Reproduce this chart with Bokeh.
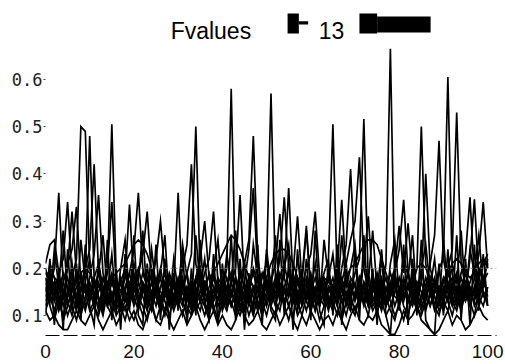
from bokeh.plotting import figure
from bokeh.models import Range1d, FixedTicker, Label, BoxAnnotation, Span
from bokeh.embed import file_html
from bokeh.resources import INLINE

# ---------------- data ----------------
x = list(range(0, 101))

s1 = [0.19, 0.17, 0.14, 0.16, 0.12, 0.15, 0.18, 0.22, 0.50, 0.49,
      0.20, 0.15, 0.11, 0.14, 0.17, 0.13, 0.10, 0.12, 0.16, 0.19,
      0.14, 0.11, 0.15, 0.18, 0.13, 0.09, 0.12, 0.17, 0.14, 0.16,
      0.36, 0.15, 0.12, 0.10, 0.14, 0.18, 0.16, 0.11, 0.13, 0.17,
      0.15, 0.20, 0.58, 0.17, 0.12, 0.14, 0.10, 0.13, 0.16, 0.12,
      0.15, 0.18, 0.13, 0.11, 0.16, 0.19, 0.14, 0.10, 0.12, 0.15,
      0.17, 0.13, 0.09, 0.12, 0.16, 0.14, 0.18, 0.13, 0.10, 0.14,
      0.17, 0.12, 0.15, 0.19, 0.14, 0.11, 0.13, 0.21, 0.665, 0.16,
      0.12, 0.09, 0.13, 0.17, 0.14, 0.11, 0.15, 0.18, 0.12, 0.10,
      0.14, 0.17, 0.13, 0.11, 0.15, 0.19, 0.16, 0.12, 0.14, 0.17,
      0.15]
s2 = [0.15, 0.21, 0.18, 0.13, 0.10, 0.14, 0.17, 0.12, 0.15, 0.19,
      0.48, 0.18, 0.14, 0.11, 0.16, 0.19, 0.15, 0.12, 0.09, 0.13,
      0.17, 0.20, 0.16, 0.12, 0.15, 0.18, 0.13, 0.10, 0.14, 0.17,
      0.12, 0.16, 0.19, 0.14, 0.11, 0.13, 0.17, 0.15, 0.12, 0.09,
      0.13, 0.16, 0.12, 0.15, 0.19, 0.16, 0.13, 0.10, 0.14, 0.18,
      0.21, 0.57, 0.18, 0.13, 0.16, 0.12, 0.10, 0.14, 0.18, 0.29,
      0.15, 0.11, 0.14, 0.17, 0.13, 0.16, 0.12, 0.09, 0.13, 0.16,
      0.14, 0.18, 0.13, 0.10, 0.15, 0.17, 0.14, 0.12, 0.16, 0.19,
      0.15, 0.13, 0.17, 0.14, 0.11, 0.13, 0.16, 0.12, 0.15, 0.20,
      0.22, 0.605, 0.19, 0.14, 0.12, 0.16, 0.13, 0.10, 0.15, 0.18,
      0.14]
s3 = [0.12, 0.16, 0.20, 0.36, 0.17, 0.13, 0.10, 0.14, 0.18, 0.15,
      0.11, 0.13, 0.17, 0.14, 0.19, 0.505, 0.18, 0.13, 0.11, 0.15,
      0.19, 0.14, 0.12, 0.09, 0.13, 0.16, 0.20, 0.15, 0.12, 0.14,
      0.17, 0.13, 0.10, 0.15, 0.18, 0.14, 0.12, 0.16, 0.19, 0.15,
      0.11, 0.14, 0.17, 0.20, 0.355, 0.16, 0.12, 0.15, 0.18, 0.13,
      0.10, 0.14, 0.17, 0.15, 0.12, 0.09, 0.13, 0.17, 0.14, 0.11,
      0.15, 0.18, 0.14, 0.12, 0.16, 0.13, 0.10, 0.14, 0.17, 0.15,
      0.19, 0.22, 0.516, 0.17, 0.13, 0.15, 0.18, 0.14, 0.11, 0.09,
      0.13, 0.16, 0.19, 0.15, 0.12, 0.14, 0.18, 0.15, 0.11, 0.13,
      0.16, 0.13, 0.10, 0.14, 0.18, 0.15, 0.12, 0.16, 0.20, 0.17,
      0.19]
s4 = [0.18, 0.14, 0.11, 0.15, 0.19, 0.16, 0.12, 0.09, 0.13, 0.17,
      0.14, 0.18, 0.21, 0.16, 0.12, 0.15, 0.11, 0.14, 0.18, 0.335,
      0.16, 0.13, 0.17, 0.14, 0.11, 0.15, 0.18, 0.13, 0.10, 0.14,
      0.18, 0.15, 0.19, 0.23, 0.50, 0.18, 0.13, 0.10, 0.14, 0.17,
      0.13, 0.11, 0.15, 0.18, 0.14, 0.12, 0.16, 0.19, 0.15, 0.11,
      0.13, 0.16, 0.14, 0.18, 0.21, 0.16, 0.13, 0.11, 0.15, 0.18,
      0.14, 0.11, 0.16, 0.19, 0.22, 0.505, 0.17, 0.13, 0.15, 0.12,
      0.10, 0.14, 0.17, 0.13, 0.16, 0.19, 0.15, 0.12, 0.14, 0.18,
      0.16, 0.12, 0.10, 0.14, 0.17, 0.13, 0.11, 0.15, 0.18, 0.14,
      0.17, 0.20, 0.24, 0.53, 0.21, 0.16, 0.13, 0.15, 0.19, 0.22,
      0.20]
s5 = [0.14, 0.19, 0.16, 0.12, 0.15, 0.18, 0.14, 0.11, 0.16, 0.20,
      0.24, 0.42, 0.19, 0.15, 0.12, 0.10, 0.14, 0.17, 0.13, 0.16,
      0.12, 0.15, 0.19, 0.16, 0.13, 0.17, 0.14, 0.11, 0.15, 0.18,
      0.14, 0.12, 0.16, 0.13, 0.17, 0.20, 0.15, 0.12, 0.16, 0.13,
      0.17, 0.14, 0.12, 0.15, 0.18, 0.21, 0.26, 0.48, 0.22, 0.16,
      0.12, 0.15, 0.18, 0.14, 0.19, 0.37, 0.17, 0.13, 0.10, 0.14,
      0.18, 0.15, 0.12, 0.16, 0.13, 0.11, 0.15, 0.18, 0.14, 0.17,
      0.13, 0.16, 0.12, 0.15, 0.18, 0.14, 0.11, 0.15, 0.19, 0.16,
      0.14, 0.17, 0.13, 0.16, 0.20, 0.50, 0.21, 0.15, 0.12, 0.16,
      0.13, 0.11, 0.15, 0.18, 0.14, 0.17, 0.13, 0.16, 0.12, 0.15,
      0.13]
s6 = [0.17, 0.13, 0.15, 0.19, 0.22, 0.34, 0.18, 0.14, 0.11, 0.13,
      0.16, 0.12, 0.15, 0.18, 0.14, 0.11, 0.13, 0.17, 0.20, 0.16,
      0.13, 0.17, 0.14, 0.11, 0.15, 0.12, 0.16, 0.19, 0.15, 0.13,
      0.16, 0.20, 0.25, 0.42, 0.21, 0.16, 0.13, 0.15, 0.11, 0.14,
      0.18, 0.15, 0.13, 0.10, 0.14, 0.17, 0.13, 0.16, 0.12, 0.15,
      0.17, 0.13, 0.16, 0.19, 0.15, 0.12, 0.15, 0.18, 0.14, 0.17,
      0.13, 0.16, 0.12, 0.15, 0.19, 0.16, 0.14, 0.17, 0.21, 0.26,
      0.30, 0.435, 0.20, 0.15, 0.12, 0.14, 0.17, 0.13, 0.16, 0.12,
      0.15, 0.18, 0.14, 0.12, 0.15, 0.19, 0.16, 0.21, 0.27, 0.47,
      0.22, 0.17, 0.14, 0.12, 0.16, 0.19, 0.15, 0.13, 0.17, 0.14,
      0.16]
s7 = [0.20, 0.16, 0.13, 0.17, 0.14, 0.10, 0.13, 0.16, 0.19, 0.15,
      0.18, 0.23, 0.355, 0.19, 0.15, 0.13, 0.16, 0.12, 0.15, 0.19,
      0.24, 0.36, 0.20, 0.16, 0.13, 0.15, 0.12, 0.14, 0.17, 0.13,
      0.15, 0.18, 0.14, 0.11, 0.15, 0.13, 0.17, 0.14, 0.18, 0.15,
      0.12, 0.16, 0.19, 0.15, 0.13, 0.17, 0.24, 0.37, 0.19, 0.14,
      0.16, 0.12, 0.15, 0.17, 0.13, 0.16, 0.19, 0.15, 0.12, 0.16,
      0.19, 0.14, 0.17, 0.13, 0.15, 0.18, 0.14, 0.20, 0.25, 0.41,
      0.21, 0.16, 0.13, 0.17, 0.14, 0.12, 0.15, 0.18, 0.14, 0.17,
      0.13, 0.15, 0.19, 0.16, 0.13, 0.17, 0.40, 0.20, 0.16, 0.13,
      0.15, 0.19, 0.16, 0.13, 0.16, 0.14, 0.17, 0.20, 0.15, 0.18,
      0.21]
s8 = [0.16, 0.12, 0.09, 0.13, 0.17, 0.21, 0.24, 0.33, 0.17, 0.12,
      0.14, 0.17, 0.13, 0.10, 0.15, 0.18, 0.14, 0.11, 0.13, 0.17,
      0.15, 0.19, 0.23, 0.32, 0.18, 0.14, 0.11, 0.15, 0.19, 0.16,
      0.13, 0.10, 0.14, 0.17, 0.13, 0.11, 0.15, 0.19, 0.16, 0.12,
      0.14, 0.18, 0.15, 0.12, 0.10, 0.13, 0.17, 0.14, 0.11, 0.15,
      0.18, 0.14, 0.17, 0.22, 0.35, 0.20, 0.15, 0.12, 0.16, 0.13,
      0.11, 0.14, 0.18, 0.15, 0.12, 0.16, 0.19, 0.15, 0.13, 0.11,
      0.15, 0.13, 0.17, 0.14, 0.11, 0.13, 0.16, 0.12, 0.15, 0.19,
      0.24, 0.345, 0.19, 0.15, 0.12, 0.10, 0.13, 0.17, 0.14, 0.11,
      0.13, 0.16, 0.18, 0.15, 0.19, 0.23, 0.35, 0.18, 0.14, 0.12,
      0.16]
s9 = [0.13, 0.18, 0.15, 0.11, 0.14, 0.20, 0.32, 0.19, 0.14, 0.11,
      0.15, 0.12, 0.10, 0.14, 0.20, 0.34, 0.16, 0.12, 0.14, 0.11,
      0.09, 0.12, 0.16, 0.13, 0.17, 0.14, 0.11, 0.15, 0.18, 0.14,
      0.12, 0.15, 0.13, 0.16, 0.12, 0.15, 0.19, 0.22, 0.32, 0.17,
      0.13, 0.16, 0.14, 0.18, 0.15, 0.11, 0.14, 0.12, 0.16, 0.19,
      0.16, 0.12, 0.10, 0.13, 0.16, 0.14, 0.17, 0.13, 0.16, 0.20,
      0.23, 0.32, 0.18, 0.14, 0.11, 0.15, 0.12, 0.16, 0.13, 0.18,
      0.16, 0.13, 0.15, 0.12, 0.17, 0.15, 0.12, 0.16, 0.13, 0.10,
      0.12, 0.15, 0.13, 0.18, 0.15, 0.12, 0.14, 0.17, 0.14, 0.12,
      0.15, 0.13, 0.17, 0.14, 0.11, 0.15, 0.22, 0.346, 0.18, 0.15,
      0.12]
s10 = [0.11, 0.14, 0.17, 0.14, 0.09, 0.12, 0.15, 0.18, 0.13, 0.16,
       0.13, 0.16, 0.19, 0.16, 0.12, 0.14, 0.17, 0.15, 0.19, 0.14,
       0.18, 0.13, 0.10, 0.14, 0.17, 0.22, 0.30, 0.19, 0.14, 0.11,
       0.14, 0.17, 0.15, 0.12, 0.16, 0.13, 0.10, 0.13, 0.15, 0.18,
       0.16, 0.13, 0.17, 0.14, 0.11, 0.15, 0.18, 0.16, 0.13, 0.10,
       0.14, 0.17, 0.21, 0.315, 0.18, 0.14, 0.19, 0.31, 0.17, 0.13,
       0.16, 0.13, 0.15, 0.18, 0.14, 0.12, 0.20, 0.345, 0.18, 0.14,
       0.11, 0.14, 0.16, 0.12, 0.15, 0.18, 0.13, 0.10, 0.12, 0.15,
       0.18, 0.14, 0.16, 0.13, 0.17, 0.15, 0.12, 0.14, 0.17, 0.15,
       0.18, 0.15, 0.12, 0.16, 0.13, 0.17, 0.14, 0.18, 0.23, 0.34,
       0.20]
s11 = [0.21, 0.25, 0.26, 0.19, 0.15, 0.12, 0.16, 0.13, 0.10, 0.14,
       0.17, 0.14, 0.12, 0.16, 0.13, 0.17, 0.14, 0.18, 0.15, 0.12,
       0.16, 0.13, 0.17, 0.15, 0.19, 0.16, 0.13, 0.17, 0.14, 0.12,
       0.15, 0.13, 0.16, 0.14, 0.18, 0.22, 0.30, 0.18, 0.13, 0.16,
       0.14, 0.12, 0.15, 0.13, 0.17, 0.14, 0.16, 0.20, 0.17, 0.13,
       0.17, 0.15, 0.12, 0.16, 0.13, 0.15, 0.18, 0.14, 0.17, 0.15,
       0.12, 0.15, 0.17, 0.14, 0.18, 0.15, 0.13, 0.16, 0.12, 0.15,
       0.14, 0.17, 0.21, 0.31, 0.17, 0.13, 0.16, 0.13, 0.17, 0.20,
       0.29, 0.19, 0.295, 0.18, 0.15, 0.17, 0.14, 0.12, 0.16, 0.13,
       0.11, 0.14, 0.16, 0.19, 0.15, 0.13, 0.16, 0.14, 0.18, 0.21,
       0.23]
s12 = [0.19, 0.19, 0.18, 0.17, 0.15, 0.14, 0.15, 0.17, 0.19, 0.20,
       0.19, 0.17, 0.16, 0.15, 0.16, 0.18, 0.19, 0.20, 0.21, 0.23,
       0.25, 0.26, 0.25, 0.23, 0.20, 0.17, 0.15, 0.14, 0.15, 0.16,
       0.17, 0.16, 0.14, 0.13, 0.14, 0.15, 0.17, 0.18, 0.19, 0.21,
       0.23, 0.25, 0.27, 0.26, 0.24, 0.21, 0.18, 0.16, 0.15, 0.16,
       0.18, 0.21, 0.23, 0.24, 0.24, 0.23, 0.21, 0.18, 0.16, 0.15,
       0.14, 0.15, 0.17, 0.18, 0.17, 0.16, 0.15, 0.16, 0.18, 0.20,
       0.21, 0.23, 0.25, 0.26, 0.26, 0.25, 0.22, 0.19, 0.16, 0.14,
       0.13, 0.14, 0.16, 0.18, 0.20, 0.21, 0.20, 0.18, 0.17, 0.16,
       0.17, 0.19, 0.21, 0.22, 0.21, 0.19, 0.18, 0.19, 0.21, 0.22,
       0.21]
s13 = [0.11, 0.09, 0.10, 0.08, 0.07, 0.07, 0.09, 0.11, 0.09, 0.08,
       0.10, 0.12, 0.09, 0.07, 0.09, 0.11, 0.08, 0.10, 0.12, 0.09,
       0.11, 0.08, 0.07, 0.10, 0.12, 0.09, 0.08, 0.11, 0.09, 0.07,
       0.09, 0.11, 0.08, 0.10, 0.12, 0.09, 0.07, 0.09, 0.11, 0.08,
       0.10, 0.08, 0.07, 0.09, 0.12, 0.10, 0.08, 0.09, 0.11, 0.08,
       0.07, 0.09, 0.11, 0.08, 0.10, 0.12, 0.09, 0.07, 0.10, 0.08,
       0.11, 0.09, 0.07, 0.09, 0.10, 0.08, 0.11, 0.09, 0.07, 0.10,
       0.12, 0.09, 0.08, 0.10, 0.09, 0.11, 0.08, 0.07, 0.06, 0.06,
       0.08, 0.11, 0.09, 0.10, 0.12, 0.09, 0.08, 0.07, 0.06, 0.07,
       0.09, 0.11, 0.08, 0.10, 0.09, 0.07, 0.08, 0.10, 0.12, 0.10,
       0.09]
s14 = [0.10, 0.22, 0.08, 0.19, 0.07, 0.24, 0.11, 0.21, 0.09, 0.25,
       0.12, 0.08, 0.22, 0.10, 0.26, 0.09, 0.20, 0.07, 0.23, 0.11,
       0.27, 0.10, 0.08, 0.21, 0.12, 0.25, 0.09, 0.22, 0.07, 0.19,
       0.11, 0.24, 0.08, 0.20, 0.10, 0.26, 0.12, 0.09, 0.23, 0.08,
       0.21, 0.11, 0.27, 0.09, 0.22, 0.07, 0.19, 0.10, 0.25, 0.08,
       0.23, 0.11, 0.09, 0.26, 0.10, 0.21, 0.07, 0.24, 0.12, 0.22,
       0.09, 0.28, 0.11, 0.08, 0.22, 0.10, 0.25, 0.08, 0.21, 0.11,
       0.24, 0.09, 0.27, 0.12, 0.20, 0.08, 0.23, 0.10, 0.06, 0.19,
       0.11, 0.25, 0.08, 0.22, 0.10, 0.26, 0.09, 0.07, 0.06, 0.21,
       0.10, 0.24, 0.12, 0.27, 0.09, 0.22, 0.08, 0.25, 0.11, 0.23,
       0.12]
s15 = [0.18, 0.13, 0.24, 0.16, 0.28, 0.14, 0.21, 0.12, 0.26, 0.17,
       0.22, 0.13, 0.19, 0.27, 0.15, 0.23, 0.12, 0.20, 0.26, 0.14,
       0.21, 0.17, 0.28, 0.13, 0.24, 0.16, 0.19, 0.27, 0.12, 0.22,
       0.15, 0.25, 0.18, 0.13, 0.27, 0.16, 0.22, 0.12, 0.20, 0.26,
       0.14, 0.23, 0.17, 0.28, 0.15, 0.21, 0.13, 0.25, 0.18, 0.12,
       0.24, 0.16, 0.27, 0.14, 0.20, 0.25, 0.13, 0.22, 0.17, 0.28,
       0.15, 0.21, 0.12, 0.26, 0.18, 0.23, 0.14, 0.27, 0.16, 0.20,
       0.25, 0.13, 0.22, 0.17, 0.28, 0.15, 0.24, 0.12, 0.21, 0.26,
       0.14, 0.23, 0.18, 0.27, 0.13, 0.20, 0.25, 0.16, 0.22, 0.12,
       0.26, 0.15, 0.21, 0.17, 0.28, 0.14, 0.24, 0.19, 0.27, 0.16,
       0.22]

series = [s1, s2, s3, s4, s5, s6, s7, s8, s9, s10, s11, s12, s13, s14, s15]
reference_level = 0.2
y_ticks = [0.1, 0.2, 0.3, 0.4, 0.5, 0.6]
x_ticks = [0, 20, 40, 60, 80, 100]
title_text = "Fvalues"
legend_count = "13"

# ---------------- figure ----------------
p = figure(width=505, height=364, output_backend="svg", toolbar_location=None,
           x_range=Range1d(0, 102), y_range=Range1d(0.0576, 0.767),
           min_border_left=45, min_border_right=9, min_border_top=0,
           min_border_bottom=29)
p.outline_line_color = None
p.background_fill_color = "white"
p.border_fill_color = "white"
p.grid.visible = False

for s in series:
    p.line(x, s, line_color="black", line_width=1.7, line_alpha=1.0,
           line_join="miter")

p.add_layout(Span(location=reference_level, dimension="width",
                  line_color="#8a8a8a", line_dash="2 3", line_width=1))

# axes
xa = p.xaxis[0]
xa.ticker = FixedTicker(ticks=x_ticks)
xa.axis_line_color = "black"
xa.axis_line_width = 1.2
xa.axis_line_dash = "14 4"
xa.major_tick_in = 0
xa.major_tick_out = 0
xa.minor_tick_line_color = None
xa.major_label_standoff = 9
xa.major_label_text_font = "Liberation Sans"
xa.major_label_text_font_size = "19px"
xa.major_label_text_color = "#111111"

ya = p.yaxis[0]
ya.ticker = FixedTicker(ticks=y_ticks)
ya.axis_line_color = None
ya.major_tick_in = 0
ya.major_tick_out = 2
ya.major_tick_line_color = "#444444"
ya.minor_tick_line_color = None
ya.major_label_standoff = 1
ya.major_label_text_font = "DejaVu Sans Mono"
ya.major_label_text_font_size = "17px"
ya.major_label_text_color = "#222222"

# title-like header with legend marks
p.add_layout(Label(x=28.3, y=0.7034, text=title_text, text_font="Liberation Sans",
                   text_font_size="23px", text_color="black",
                   text_baseline="alphabetic"))
p.add_layout(BoxAnnotation(left=54.75, right=57.3, bottom=0.697, top=0.7395,
                           fill_color="black", fill_alpha=1, line_color=None))
p.add_layout(BoxAnnotation(left=57.3, right=59.4, bottom=0.716, top=0.723,
                           fill_color="black", fill_alpha=1, line_color=None))
p.add_layout(Label(x=61.8, y=0.7034, text=legend_count, text_font="Liberation Sans",
                   text_font_size="23px", text_color="black",
                   text_baseline="alphabetic"))
p.add_layout(BoxAnnotation(left=71.0, right=75.0, bottom=0.697, top=0.7395,
                           fill_color="black", fill_alpha=1, line_color=None))
p.add_layout(BoxAnnotation(left=75.0, right=87.1, bottom=0.699, top=0.733,
                           fill_color="black", fill_alpha=1, line_color=None))

open("out.html", "w").write(file_html(p, INLINE))
